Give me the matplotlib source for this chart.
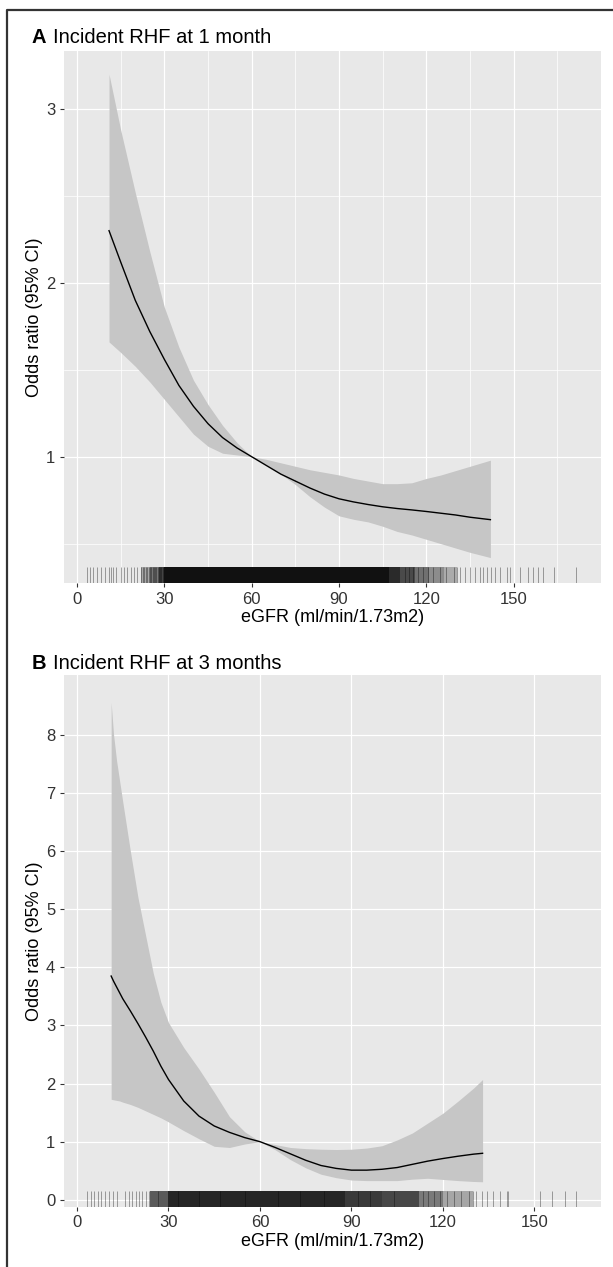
import numpy as np
import matplotlib.pyplot as plt
from matplotlib.lines import Line2D

plt.rcParams['font.family'] = ['Liberation Sans', 'DejaVu Sans']

# ---- panel A: incident RHF at 1 month ----
egfr_a = [11, 15, 20, 25, 30, 35, 40, 45, 50, 55, 60, 65, 70, 75, 80, 85, 90,
          95, 100, 105, 110, 115, 120, 125, 130, 135, 142]
or_a = [2.30, 2.12, 1.90, 1.72, 1.56, 1.41, 1.29, 1.19, 1.11, 1.05, 1.00, 0.95,
        0.90, 0.86, 0.82, 0.785, 0.758, 0.74, 0.725, 0.712, 0.702, 0.694, 0.685,
        0.675, 0.665, 0.652, 0.638]
lo_a = [1.66, 1.60, 1.52, 1.43, 1.33, 1.23, 1.13, 1.06, 1.02, 1.01, 1.00, 0.955,
        0.90, 0.84, 0.77, 0.71, 0.66, 0.64, 0.625, 0.60, 0.57, 0.55, 0.525,
        0.50, 0.475, 0.45, 0.42]
hi_a = [3.20, 2.88, 2.52, 2.18, 1.86, 1.63, 1.44, 1.30, 1.18, 1.08, 1.00, 0.985,
        0.965, 0.945, 0.925, 0.91, 0.895, 0.875, 0.86, 0.845, 0.845, 0.85, 0.875,
        0.895, 0.92, 0.945, 0.98]
# single rug ticks (sparse tails)
rug_a = [3.5, 4.5, 5.6, 6.8, 8.1, 9.5, 11.0, 11.8, 12.5, 13.3, 15.0, 16.2, 17.3,
         18.4, 19.6, 20.7, 21.9, 22.5, 23.1, 23.6, 24.0, 24.6, 25.1, 25.5, 26.0,
         26.4, 26.9, 27.3, 27.8, 28.2, 28.6, 29.0, 29.5,
         112.5, 113.9, 115.4, 117.0, 118.7, 120.5, 122.4, 124.6, 126.9, 129.4,
         130.5, 131.6, 133.3, 135.1, 136.8, 138.5, 139.6, 140.8, 142.1, 143.6,
         145.4, 147.7, 148.8, 152.2, 154.8, 156.5, 158.2, 160.2, 164.0, 171.4]
# dense rug stretches: start, end, shade
seg_lo_a = [22, 25, 28, 30, 107, 111, 116, 121, 126]
seg_hi_a = [25, 28, 30, 107, 111, 116, 121, 126, 130.5]
seg_col_a = ['#a8a8a8', '#777777', '#444444', '#111111', '#2a2a2a', '#4a4a4a',
             '#707070', '#8c8c8c', '#ababab']

# ---- panel B: incident RHF at 3 months ----
egfr_b = [11.2, 12, 13, 14, 15, 17.5, 20, 22.5, 25, 27.5, 30, 35, 40, 45, 50, 55,
          60, 65, 70, 75, 80, 85, 90, 95, 100, 105, 110, 115, 120, 125, 130, 133]
or_b = [3.85, 3.76, 3.66, 3.56, 3.46, 3.25, 3.03, 2.80, 2.56, 2.30, 2.07, 1.70,
        1.44, 1.27, 1.16, 1.07, 1.00, 0.90, 0.79, 0.68, 0.59, 0.54, 0.51, 0.51,
        0.525, 0.555, 0.61, 0.665, 0.71, 0.75, 0.785, 0.80]
lo_b = [1.73, 1.72, 1.71, 1.70, 1.68, 1.64, 1.59, 1.53, 1.47, 1.41, 1.34, 1.19,
        1.05, 0.92, 0.90, 0.96, 1.00, 0.86, 0.69, 0.55, 0.44, 0.38, 0.34, 0.33,
        0.33, 0.33, 0.355, 0.37, 0.35, 0.33, 0.315, 0.31]
hi_b = [8.56, 8.00, 7.55, 7.20, 6.85, 6.00, 5.20, 4.55, 3.90, 3.40, 3.05, 2.62,
        2.25, 1.85, 1.43, 1.17, 1.00, 0.95, 0.90, 0.88, 0.87, 0.865, 0.87, 0.89,
        0.93, 1.03, 1.15, 1.32, 1.49, 1.70, 1.92, 2.07]
rug_b = [3.4, 4.5, 5.6, 6.9, 8.0, 9.1, 10.5, 11.9, 13.2, 15.9, 17.1, 18.2, 19.2,
         20.3, 21.4, 22.5, 23.6, 26.5, 33.0, 40.0, 47.0, 55.0, 66.0, 73.0, 81.0,
         92.0, 96.0, 104.0, 113.4, 115.1, 117.0, 119.0, 121.2, 123.5, 126.0,
         128.7, 130.0, 131.0, 132.7, 134.3, 136.5, 138.7, 140.9, 141.4, 151.7,
         155.9, 160.0, 163.6]
seg_lo_b = [24, 30, 88, 100, 112, 120]
seg_hi_b = [30, 88, 100, 112, 120, 130]
seg_col_b = ['#5a5a5a', '#262626', '#3a3a3a', '#474747', '#7a7a7a', '#a6a6a6']

xticks = [0, 30, 60, 90, 120, 150]
W, H = 613, 1267

fig = plt.figure(figsize=(W / 100, H / 100), dpi=100)


def panel(rect, x, est, lo, hi, rug, seg_lo, seg_hi, seg_col, xlim, ylim,
          yticks, minor):
    ax = fig.add_axes(rect)
    ax.set_facecolor('#E8E8E8')
    for s in ax.spines.values():
        s.set_visible(False)
    ax.set_xlim(xlim)
    ax.set_ylim(ylim)
    ax.set_xticks(xticks)
    ax.set_yticks(yticks)
    if minor:
        ax.set_xticks([15, 45, 75, 105, 135, 165], minor=True)
        ax.set_yticks([0.5, 1.5, 2.5], minor=True)
        ax.grid(True, which='minor', color='white', lw=0.5)
        ax.tick_params(which='minor', length=0)
    ax.grid(True, which='major', color='white', lw=0.9)
    ax.set_axisbelow(True)
    ax.tick_params(which='major', length=3, width=0.8, color='#333333',
                   labelsize=12, labelcolor='#333333', pad=3)

    ax.fill_between(x, lo, hi, color='#C6C6C6', lw=0, zorder=2)
    ax.plot(x, est, color='black', lw=1.0, zorder=3)

    tr = ax.get_xaxis_transform()
    for a, b, c in zip(seg_lo, seg_hi, seg_col):
        ax.fill_between([a, b], [0, 0], [0.03, 0.03], color=c, lw=0,
                        transform=tr, zorder=2)
    ax.vlines(rug, 0, 0.03, color='black', alpha=0.35, lw=0.7,
              transform=tr, zorder=2)

    ax.set_xlabel('eGFR (ml/min/1.73m2)', fontsize=13, labelpad=2)
    ax.set_ylabel('Odds ratio (95% CI)', fontsize=13, labelpad=2)
    return ax


ax_a = panel([63.7 / W, 1 - 583.3 / H, 537.2 / W, 532.6 / H],
             egfr_a, or_a, lo_a, hi_a, rug_a, seg_lo_a, seg_hi_a, seg_col_a,
             (-4.57, 179.96), (0.272, 3.335), [1, 2, 3], True)
ax_b = panel([63.7 / W, 1 - 1206.7 / H, 537.2 / W, 531.7 / H],
             egfr_b, or_b, lo_b, hi_b, rug_b, seg_lo_b, seg_hi_b, seg_col_b,
             (-4.36, 171.8), (-0.119, 9.03), list(range(9)), False)

# panel titles
for y, letter, txt in [(43.3, 'A', 'Incident RHF at 1 month'),
                       (669.3, 'B', 'Incident RHF at 3 months')]:
    fig.text(31.3 / W, 1 - y / H, letter, fontsize=14.5, fontweight='bold',
             va='baseline', ha='left')
    fig.text(52.8 / W, 1 - y / H, txt, fontsize=14.5, va='baseline', ha='left')

# outer frame (left and top edges)
fig.add_artist(Line2D([7 / W, 7 / W, 1.0], [0.0, 1 - 10 / H, 1 - 10 / H],
                      transform=fig.transFigure, color='#333333', lw=1.6))

fig.savefig('out.png', dpi=100)
